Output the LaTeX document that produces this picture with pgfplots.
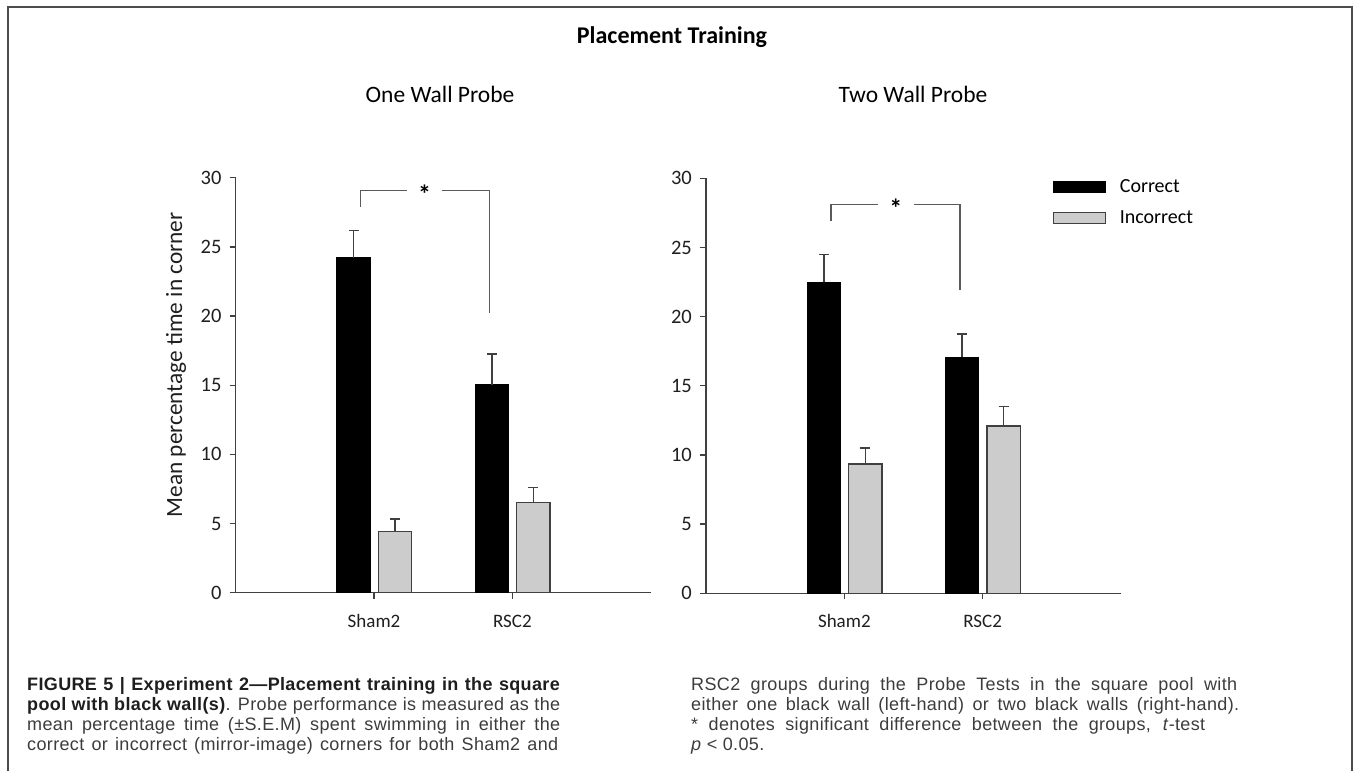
\documentclass[border=0pt]{standalone}
\usepackage{fontspec}
\setmainfont{Carlito}
\newfontfamily\capfont[LetterSpace=2]{Liberation Sans}
\usepackage{pgfplots}
\usepackage{pgfplotstable}
\pgfplotsset{compat=1.18}

\definecolor{axisgray}{HTML}{404040}
\definecolor{bracketgray}{HTML}{5A5A5A}
\definecolor{incfill}{HTML}{CCCCCC}
\definecolor{captext}{HTML}{3C3C3C}
\definecolor{capbold}{HTML}{1E1E1E}

% mean percentage time in corner, with S.E.M (upward error bars)
\pgfplotstableread{
x corr corrErr inc incErr
1 24.2  2.0  4.4  0.92
2 15.05 2.2  6.5  1.1
}\onewall
\pgfplotstableread{
x corr corrErr inc incErr
1 22.5  2.0  9.35 1.15
2 17.05 1.7  12.1 1.4
}\twowall

\pgfplotsset{
  probe/.style={
    scale only axis, width=415pt, height=415pt,
    xmin=0, xmax=3, ymin=0, ymax=30,
    axis lines*=left,
    axis line style={axisgray, line width=1.4pt, -},
    xtick={1,2}, xticklabels={Sham2,RSC2},
    ytick={0,5,...,30},
    tick align=outside, major tick length=6pt,
    tick style={axisgray, line width=1.3pt},
    /pgf/number format/assume math mode=true,
    yticklabel style={font=\fontsize{20.5}{24}\selectfont, text=black!88,
      anchor=east, inner sep=0pt, xshift=-8pt},
    xticklabel style={font=\fontsize{19}{23}\selectfont, text=black!88,
      anchor=base, inner sep=0pt, yshift=-28.6pt},
    ybar, bar width=33.5pt,
    clip=false,
  },
  corrbar/.style={fill=black, draw=black, line width=1pt, bar shift=-20.5pt,
    error bars/.cd, y dir=plus, y explicit,
    error bar style={axisgray, line width=1.4pt},
    error mark options={axisgray, line width=1.4pt, mark size=5pt, rotate=90}},
  incbar/.style={fill=incfill, draw=axisgray, line width=1.3pt, bar shift=21pt,
    error bars/.cd, y dir=plus, y explicit,
    error bar style={axisgray, line width=1.4pt},
    error mark options={axisgray, line width=1.4pt, mark size=5pt, rotate=90}},
}
\tikzset{
  bracket/.style={bracketgray, line width=1.2pt},
  star/.style={font=\bfseries\fontsize{26}{26}\selectfont, inner sep=0pt, anchor=base, yshift=-13pt},
}

\begin{document}
\begin{tikzpicture}[x=1pt, y=1pt]
\useasboundingbox (0,0) rectangle (1356,771);

% frame
\draw[black!70, line width=1.5pt] (8,0) -- (8,764) -- (1352,764) -- (1352,0);

% titles
\node[anchor=base, inner sep=0pt, font=\bfseries\fontsize{24}{27}\selectfont] at (672,727.5) {Placement Training};
\node[anchor=base, inner sep=0pt, font=\fontsize{23.5}{26}\selectfont] at (440,668) {One Wall Probe};
\node[anchor=base, inner sep=0pt, font=\fontsize{23.5}{26}\selectfont] at (913,668) {Two Wall Probe};

% one black wall
\begin{axis}[probe, at={(235.7pt,178.3pt)}, anchor=south west,
  ylabel={Mean percentage time in corner},
  ylabel style={font=\fontsize{23.3}{26}\selectfont, text=black!88,
    at={(axis description cs:-0.1294,0.549)}, anchor=base}]
\addplot[corrbar] table[x=x, y=corr, y error=corrErr] {\onewall};
\addplot[incbar]  table[x=x, y=inc,  y error=incErr]  {\onewall};
\draw[bracket] (axis cs:0.904,27.87) |- (axis cs:1.238,29.1);
\draw[bracket] (axis cs:1.491,29.1) -| (axis cs:1.837,20.2);
\node[star] at (axis cs:1.365,29.1) {*};
\end{axis}

% two black walls
\begin{axis}[probe, at={(706pt,177.7pt)}, anchor=south west,
  legend style={draw=none, fill=none, at={(axis cs:2.505,28.25)}, anchor=west,
    inner sep=0pt, outer sep=0pt, column sep=14pt, row sep=17pt,
    nodes={inner sep=0pt}, font=\fontsize{20}{24}\selectfont},
  legend cell align=left,
  legend image code/.code={\draw[#1, bar shift=0pt] (0pt,-5.6pt) rectangle (52pt,5.6pt);}]
\addplot[corrbar] table[x=x, y=corr, y error=corrErr] {\twowall};
\addlegendentry{Correct}
\addplot[incbar]  table[x=x, y=inc,  y error=incErr]  {\twowall};
\addlegendentry{Incorrect}
\draw[bracket] (axis cs:0.904,26.9) |- (axis cs:1.244,28.12);
\draw[bracket] (axis cs:1.502,28.12) -| (axis cs:1.836,21.96);
\node[star] at (axis cs:1.373,28.12) {*};
\end{axis}

% caption
\begin{scope}[every node/.style={anchor=base west, inner sep=0pt, text=captext,
    font=\capfont\fontsize{18}{20}\selectfont}]
\node at (27,81) {\makebox[533pt][s]{\textcolor{capbold}{\textbf{FIGURE 5 | Experiment 2—Placement training in the square}}}};
\node at (27,61) {\makebox[533pt][s]{\textcolor{capbold}{\textbf{pool with black wall(s)}}. Probe performance is measured as the}};
\node at (27,41) {\makebox[533pt][s]{mean percentage time (±S.E.M) spent swimming in either the}};
\node at (27,21) {\makebox[531pt][s]{correct or incorrect (mirror-image) corners for both Sham2 and}};
\node at (691,81) {\makebox[546pt][s]{RSC2 groups during the Probe Tests in the square pool with}};
\node at (691,61) {\makebox[548pt][s]{either one black wall (left-hand) or two black walls (right-hand).}};
\node at (691,41) {\makebox[514pt][s]{* denotes significant difference between the groups, \textit{t}-test}};
\node at (691,21) {\textit{p} < 0.05.};
\end{scope}
\end{tikzpicture}
\end{document}
